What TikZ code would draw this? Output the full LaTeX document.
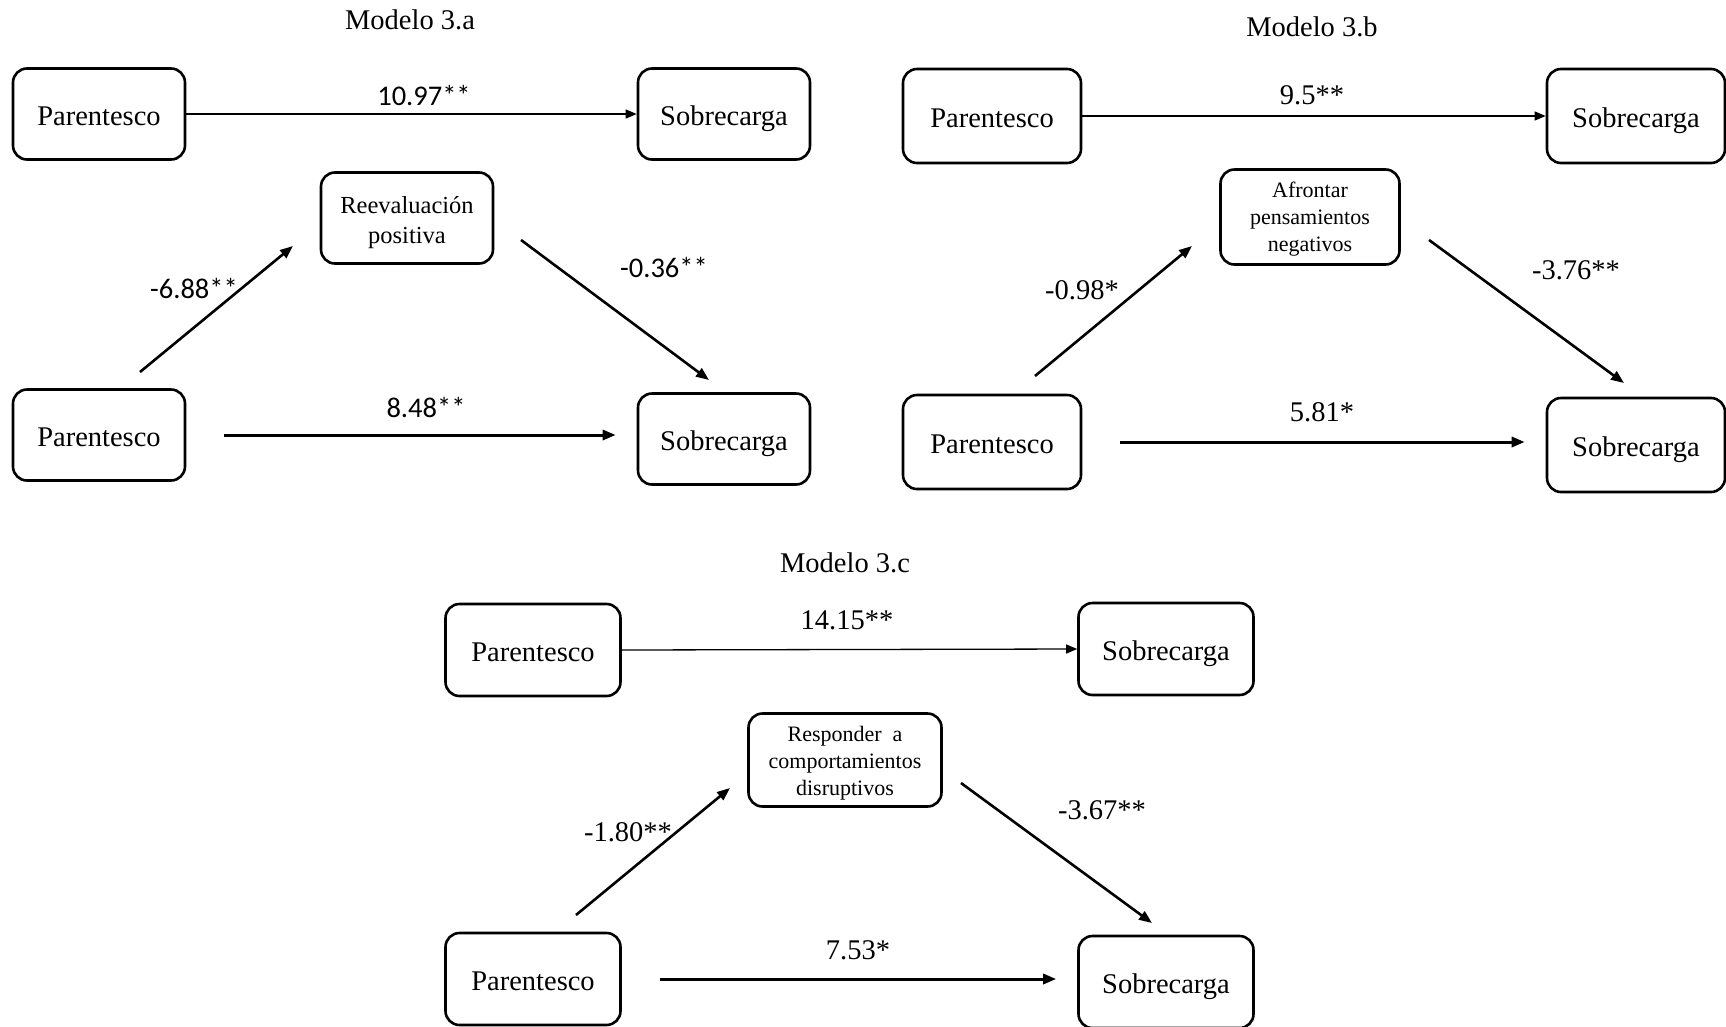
\documentclass[tikz,border=0pt]{standalone}
\usepackage{fontspec}
\setmainfont{Liberation Serif}
\newfontfamily\carlito{Carlito}
\usetikzlibrary{arrows.meta}

\begin{document}
\begin{tikzpicture}[x=1pt,y=-1pt,
  box/.style={draw, line width=2.6pt, rounded corners=14pt,
    minimum width=172pt, minimum height=91pt, inner sep=0pt,
    text height=24pt, text depth=2pt,
    font=\fontsize{28.5}{30}\selectfont},
  bigbox/.style={box, minimum width=178pt, minimum height=94pt},
  midbox/.style={box, minimum width=175pt, minimum height=92pt},
  medbox/.style={draw, line width=2.6pt, rounded corners=14pt,
    inner sep=0pt, align=center},
  title/.style={font=\fontsize{28.5}{30}\selectfont},
  coef/.style={font=\fontsize{28.5}{30}\selectfont},
  coefsans/.style={font=\carlito\fontsize{28.5}{30}\selectfont},
  direct/.style={-{Triangle[length=11pt,width=9pt]}, line width=1.3pt},
  indirect/.style={-{Triangle[length=13pt,width=10pt]}, line width=2.6pt},
  residual/.style={-{Triangle[length=13pt,width=10pt]}, line width=3pt,
    shorten <=38pt, shorten >=21pt},
]
\useasboundingbox (0,0) rectangle (1726,1026);

% ---------------- Modelo 3.a ----------------
\node[title] (t1) at (410,20) {Modelo 3.a};
\node[box] (pt1) at (99,114) {Parentesco};
\node[box] (st1) at (724,114) {Sobrecarga};
\node[medbox, minimum width=172pt, minimum height=91pt,
      font=\fontsize{24.5}{30}\selectfont] (m1) at (407,218)
      {\rule{0pt}{26pt}Reevaluación\\positiva};
\node[box] (pb1) at (99,435) {Parentesco};
\node[box] (sb1) at (724,439) {Sobrecarga};

\draw[direct] (pt1.east) -- (st1.west);
\node[coefsans] (c1) at (424,95) {10.97**};

\coordinate (a1s) at (140,372);
\coordinate (a1e) at (293,246);
\draw[indirect] (a1s) -- (a1e);
\node[coefsans] (c2) at (194,288) {-6.88**};

\coordinate (b1s) at (521,240);
\coordinate (b1e) at (709,380);
\draw[indirect] (b1s) -- (b1e);
\node[coefsans] (c3) at (664,267) {-0.36**};

\draw[residual] (pb1.east) -- (pb1.east -| sb1.west);
\node[coefsans] (c4) at (426,407) {8.48**};

% ---------------- Modelo 3.b ----------------
\node[title] (t2) at (1312,27) {Modelo 3.b};
\node[bigbox] (pt2) at (992,116) {Parentesco};
\node[bigbox] (st2) at (1636,116) {Sobrecarga};
\node[medbox, minimum width=179pt, minimum height=95pt,
      font=\fontsize{22}{27}\selectfont] (m2) at (1310,217)
      {\rule{0pt}{20pt}Afrontar\\pensamientos\\negativos};
\node[bigbox] (pb2) at (992,442) {Parentesco};
\node[bigbox] (sb2) at (1636,445) {Sobrecarga};

\draw[direct] (pt2.east) -- (st2.west);
\node[coef] (c5) at (1312,95) {9.5**};

\coordinate (a2s) at (1035,376);
\coordinate (a2e) at (1192,246);
\draw[indirect] (a2s) -- (a2e);
\node[coef] (c6) at (1082,290) {-0.98*};

\coordinate (b2s) at (1429,240);
\coordinate (b2e) at (1624,383);
\draw[indirect] (b2s) -- (b2e);
\node[coef] (c7) at (1576,270) {-3.76**};

\draw[residual] (pb2.east) -- (pb2.east -| sb2.west);
\node[coef] (c8) at (1322,412) {5.81*};

% ---------------- Modelo 3.c ----------------
\node[title] (t3) at (845,563) {Modelo 3.c};
\node[midbox] (pt3) at (533,650) {Parentesco};
\node[midbox] (st3) at (1166,649) {Sobrecarga};
\node[medbox, minimum width=193pt, minimum height=93pt,
      font=\fontsize{22}{27}\selectfont] (m3) at (845,760)
      {\rule{0pt}{21pt}Responder\ \ a\\comportamientos\\disruptivos};
\node[midbox] (pb3) at (533,979) {Parentesco};
\node[midbox] (sb3) at (1166,982) {Sobrecarga};

\draw[direct] (pt3.east) -- (st3.west);
\node[coef] (c9) at (847,620) {14.15**};

\coordinate (a3s) at (576,915);
\coordinate (a3e) at (730,788);
\draw[indirect] (a3s) -- (a3e);
\node[coef] (c10) at (628,832) {-1.80**};

\coordinate (b3s) at (961,783);
\coordinate (b3e) at (1152,923);
\draw[indirect] (b3s) -- (b3e);
\node[coef] (c11) at (1102,810) {-3.67**};

\draw[residual] (pb3.east) -- (pb3.east -| sb3.west);
\node[coef] (c12) at (858,950) {7.53*};
\end{tikzpicture}
\end{document}
